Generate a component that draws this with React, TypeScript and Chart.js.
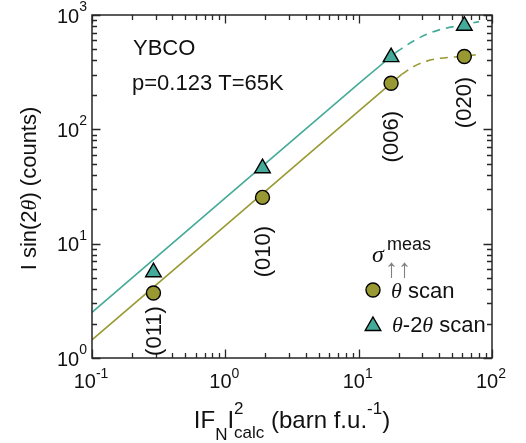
import React, { useEffect, useRef } from 'react';
import { Chart, registerables } from 'chart.js';

Chart.register(...registerables);

// ---------------- data ----------------
const reflections = ['(011)', '(010)', '(006)', '(020)'];
const xCalc = [0.289, 1.9, 17.5, 62];
const thetaScan = [3.7, 25.4, 253, 433];
const theta2ThetaScan = [5.63, 45.7, 428, 806];

// fitted curves
const fitOliveSolidX = [0.1, 1, 10, 21];
const fitOliveSolidY = [1.44, 14.4, 144, 302];
const fitOliveDashX = [21, 25.6, 32.4, 40.8, 62, 80];
const fitOliveDashY = [302, 352, 395, 418, 436, 452];

const fitTealSolidX = [0.1, 1, 10, 19];
const fitTealSolidY = [2.51, 25.1, 251, 470];
const fitTealDashX = [19, 25.6, 32.4, 40.8, 61, 80];
const fitTealDashY = [470, 590, 678, 745, 820, 875];

// axes
const xTickValues = [0.1, 1, 10, 100];
const xTickExps = ['-1', '0', '1', '2'];
const yTickValues = [1, 10, 100, 1000];
const yTickExps = ['0', '1', '2', '3'];

// label anchors (data units) for rotated reflection labels
const reflectionLabelY = [1.72, 8.51, 86.2, 171.7];

const OLIVE = '#999933';
const TEAL = '#44AA99';
const AX = '#262626';
const SANS = '"Liberation Sans", Arial, Helvetica, sans-serif';
const SERIF = '"Liberation Serif", "Times New Roman", serif';

type Seg = { t: string; size: number; dy?: number; italic?: boolean; serif?: boolean; stack?: boolean; color?: string };

function segFont(s: Seg) {
  return `${s.italic ? 'italic ' : ''}${s.size}px ${s.serif ? SERIF : SANS}`;
}

function layoutRich(ctx: CanvasRenderingContext2D, segs: Seg[]) {
  let x = 0;
  let lastStart = 0;
  let lastW = 0;
  const items: { s: Seg; x: number }[] = [];
  for (const s of segs) {
    ctx.font = segFont(s);
    const w = ctx.measureText(s.t).width;
    if (s.stack) {
      items.push({ s, x: lastStart });
      const adv = Math.max(lastW, w);
      x = lastStart + adv;
      lastW = adv;
    } else {
      items.push({ s, x });
      lastStart = x;
      lastW = w;
      x += w;
    }
  }
  return { items, width: x };
}

function drawRich(ctx: CanvasRenderingContext2D, segs: Seg[], x: number, y: number, align: 'left' | 'center' | 'right') {
  const { items, width } = layoutRich(ctx, segs);
  const x0 = align === 'left' ? x : align === 'center' ? x - width / 2 : x - width;
  ctx.textAlign = 'left';
  ctx.textBaseline = 'alphabetic';
  for (const it of items) {
    ctx.font = segFont(it.s);
    ctx.fillStyle = it.s.color || '#111';
    ctx.fillText(it.s.t, x0 + it.x, y + (it.s.dy || 0));
  }
}

function drawCircle(ctx: CanvasRenderingContext2D, x: number, y: number, r: number, fill: string) {
  ctx.beginPath();
  ctx.arc(x, y, r, 0, Math.PI * 2);
  ctx.fillStyle = fill;
  ctx.fill();
  ctx.lineWidth = 1.4;
  ctx.strokeStyle = '#000';
  ctx.stroke();
}

function drawTriangle(ctx: CanvasRenderingContext2D, x: number, y: number, r: number, fill: string) {
  ctx.beginPath();
  let a = 0;
  for (let i = 0; i < 3; i++) {
    const px = x + Math.sin(a) * r;
    const py = y - Math.cos(a) * r;
    if (i === 0) ctx.moveTo(px, py);
    else ctx.lineTo(px, py);
    a += (2 * Math.PI) / 3;
  }
  ctx.closePath();
  ctx.fillStyle = fill;
  ctx.fill();
  ctx.lineWidth = 1.4;
  ctx.strokeStyle = '#000';
  ctx.stroke();
}

const overlayPlugin = {
  id: 'overlay',
  afterDatasetsDraw(chart: any) {
    const ctx: CanvasRenderingContext2D = chart.ctx;
    const a = chart.chartArea;
    const xs = chart.scales.x;
    const ys = chart.scales.y;
    ctx.save();

    // axes box
    ctx.strokeStyle = AX;
    ctx.lineWidth = 1.5;
    ctx.strokeRect(a.left, a.top, a.right - a.left, a.bottom - a.top);

    // ticks
    const MAJ = 8.5;
    const MIN = 5;
    ctx.lineWidth = 1.3;
    ctx.beginPath();
    const xTicks: [number, number][] = [];
    xTickValues.forEach((v, i) => {
      xTicks.push([v, MAJ]);
      if (i < xTickValues.length - 1) for (let k = 2; k <= 9; k++) xTicks.push([v * k, MIN]);
    });
    xTicks.forEach(([v, len]) => {
      const px = Math.round(xs.getPixelForValue(v)) + 0.5;
      ctx.moveTo(px, a.bottom);
      ctx.lineTo(px, a.bottom - len);
      ctx.moveTo(px, a.top);
      ctx.lineTo(px, a.top + len);
    });
    const yTicks: [number, number][] = [];
    yTickValues.forEach((v, i) => {
      yTicks.push([v, MAJ]);
      if (i < yTickValues.length - 1) for (let k = 2; k <= 9; k++) yTicks.push([v * k, MIN]);
    });
    yTicks.forEach(([v, len]) => {
      const py = Math.round(ys.getPixelForValue(v)) + 0.5;
      ctx.moveTo(a.left, py);
      ctx.lineTo(a.left + len, py);
      ctx.moveTo(a.right, py);
      ctx.lineTo(a.right - len, py);
    });
    ctx.stroke();

    // tick labels
    xTickValues.forEach((v, i) => {
      const px = xs.getPixelForValue(v);
      drawRich(ctx, [{ t: '10', size: 20 }, { t: xTickExps[i], size: 14, dy: -10 }], px - 1, a.bottom + 30, 'center');
    });
    yTickValues.forEach((v, i) => {
      const py = ys.getPixelForValue(v);
      drawRich(ctx, [{ t: '10', size: 20 }, { t: yTickExps[i], size: 14, dy: -11.5 }], a.left - 5, py + 7.5, 'right');
    });

    // x-axis title
    drawRich(
      ctx,
      [
        { t: 'IF', size: 24 },
        { t: 'N', size: 17, dy: 12 },
        { t: 'I', size: 24 },
        { t: '2', size: 17, dy: -14 },
        { t: 'calc', size: 17, dy: 10, stack: true },
        { t: ' (barn f.u.', size: 24 },
        { t: '-1', size: 17, dy: -14 },
        { t: ')', size: 24 },
      ],
      (a.left + a.right) / 2,
      a.bottom + 70,
      'center'
    );

    // y-axis title (rotated)
    ctx.save();
    ctx.translate(36, (a.top + a.bottom) / 2 + 2);
    ctx.rotate(-Math.PI / 2);
    drawRich(
      ctx,
      [
        { t: 'I sin(2', size: 22 },
        { t: 'θ', size: 22, italic: true, serif: true },
        { t: ') (counts)', size: 22 },
      ],
      0,
      0,
      'center'
    );
    ctx.restore();

    // annotations
    drawRich(ctx, [{ t: 'YBCO', size: 22 }], 133, 55, 'left');
    drawRich(ctx, [{ t: 'p=0.123 T=65K', size: 22 }], 132, 90, 'left');

    // reflection labels
    reflections.forEach((lab, i) => {
      const px = xs.getPixelForValue(xCalc[i]);
      const py = ys.getPixelForValue(reflectionLabelY[i]);
      ctx.save();
      ctx.translate(px, py);
      ctx.rotate(-Math.PI / 2);
      ctx.font = `22px ${SANS}`;
      ctx.fillStyle = '#111';
      ctx.textAlign = 'center';
      ctx.textBaseline = 'middle';
      ctx.fillText(lab, 0, 1);
      ctx.restore();
    });

    // legend
    drawRich(ctx, [{ t: 'σ', size: 24, italic: true, serif: true }], 372, 262, 'left');
    drawRich(ctx, [{ t: 'meas', size: 18 }], 387, 250, 'left');
    drawRich(ctx, [{ t: '↑↑', size: 26, color: '#808080' }], 385, 277, 'left');
    drawCircle(ctx, 373, 290, 7, OLIVE);
    drawRich(
      ctx,
      [
        { t: 'θ', size: 22, italic: true, serif: true },
        { t: ' scan', size: 22 },
      ],
      391,
      298,
      'left'
    );
    drawTriangle(ctx, 373, 326, 9, TEAL);
    drawRich(
      ctx,
      [
        { t: 'θ', size: 22, italic: true, serif: true },
        { t: '-2', size: 22 },
        { t: 'θ', size: 22, italic: true, serif: true },
        { t: ' scan', size: 22 },
      ],
      392,
      332,
      'left'
    );

    ctx.restore();
  },
};

const toXY = (xs: number[], ys: number[]) => xs.map((x, i) => ({ x, y: ys[i] }));

export default function App() {
  const ref = useRef<HTMLCanvasElement | null>(null);
  useEffect(() => {
    if (!ref.current) return;
    const chart = new Chart(ref.current, {
      type: 'scatter',
      data: {
        datasets: [
          {
            label: 'θ scan',
            data: toXY(xCalc, thetaScan),
            pointStyle: 'circle',
            pointRadius: 7,
            pointBackgroundColor: OLIVE,
            pointBorderColor: '#000',
            pointBorderWidth: 1.4,
            showLine: false,
            order: 0,
          },
          {
            label: 'θ-2θ scan',
            data: toXY(xCalc, theta2ThetaScan),
            pointStyle: 'triangle',
            pointRadius: 9,
            pointBackgroundColor: TEAL,
            pointBorderColor: '#000',
            pointBorderWidth: 1.4,
            showLine: false,
            order: 0,
          },
          {
            label: 'fit θ solid',
            data: toXY(fitOliveSolidX, fitOliveSolidY),
            showLine: true,
            pointRadius: 0,
            borderColor: OLIVE,
            borderWidth: 1.6,
            order: 1,
          },
          {
            label: 'fit θ dashed',
            data: toXY(fitOliveDashX, fitOliveDashY),
            showLine: true,
            pointRadius: 0,
            borderColor: OLIVE,
            borderWidth: 1.6,
            borderDash: [8, 6],
            cubicInterpolationMode: 'monotone',
            order: 1,
          },
          {
            label: 'fit θ-2θ solid',
            data: toXY(fitTealSolidX, fitTealSolidY),
            showLine: true,
            pointRadius: 0,
            borderColor: TEAL,
            borderWidth: 1.6,
            order: 1,
          },
          {
            label: 'fit θ-2θ dashed',
            data: toXY(fitTealDashX, fitTealDashY),
            showLine: true,
            pointRadius: 0,
            borderColor: TEAL,
            borderWidth: 1.6,
            borderDash: [8, 6],
            cubicInterpolationMode: 'monotone',
            order: 1,
          },
        ],
      },
      options: {
        animation: false,
        responsive: false,
        devicePixelRatio: 1,
        layout: { padding: { left: 92, right: 34, top: 15, bottom: 85 } },
        plugins: { legend: { display: false }, tooltip: { enabled: false } },
        events: [],
        scales: {
          x: { type: 'logarithmic', min: 0.1, max: 100, display: false },
          y: { type: 'logarithmic', min: 1, max: 1000, display: false },
        },
      },
      plugins: [overlayPlugin],
    } as any);
    return () => chart.destroy();
  }, []);

  return (
    <div style={{ position: 'fixed', left: 0, top: 0, width: 526, height: 443, background: '#fff' }}>
      <canvas ref={ref} width={526} height={443} style={{ display: 'block', width: 526, height: 443 }} />
    </div>
  );
}
